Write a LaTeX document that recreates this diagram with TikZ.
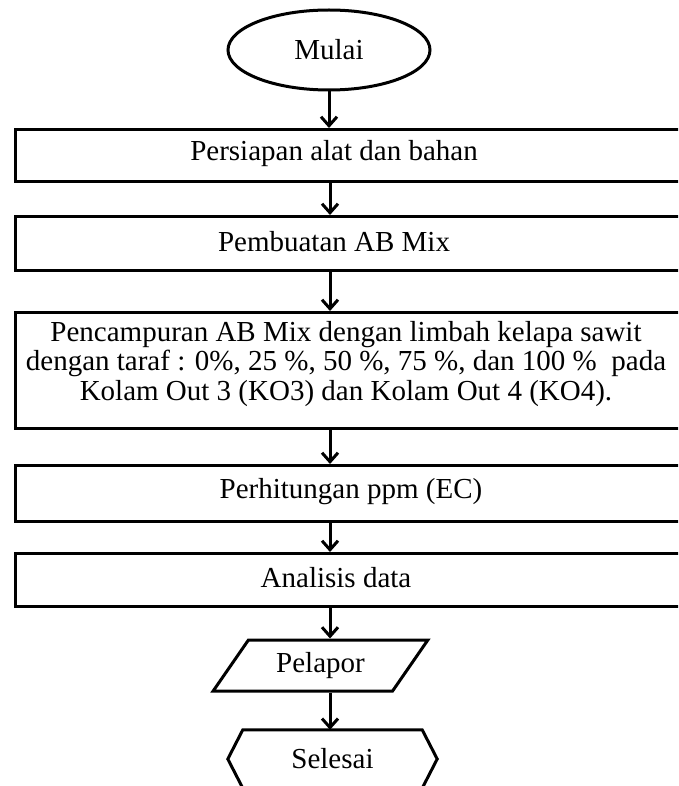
\documentclass[tikz,border=0pt]{standalone}
\usepackage{fontspec}
\setmainfont{Liberation Serif}
\usetikzlibrary{arrows.meta,shapes.geometric}
\begin{document}
\begin{tikzpicture}[x=1pt,y=-1pt,
  every node/.style={font=\fontsize{29}{29.5}\selectfont, inner sep=0pt},
  frame/.style={draw, line width=3pt, rectangle, minimum width=680pt, anchor=north west},
  lbl/.style={align=center},
  arr/.style={line width=3pt, -{Straight Barb[length=9pt,width=16pt,line width=3pt]}}]
\useasboundingbox (0,0) rectangle (678,786);
\clip (0,0) rectangle (678,786);
\fill[white] (0,0) rectangle (678,786);

\node[draw, line width=3pt, ellipse, minimum width=202pt, minimum height=80pt] (start) at (329,50) {Mulai};

\node[frame, minimum height=52pt] (b1) at (14,128) {};
\node[lbl] (t1) at (334,154) {Persiapan alat dan bahan};

\node[frame, minimum height=54pt] (b2) at (14,215) {};
\node[lbl] (t2) at (334,242) {Pembuatan AB Mix};

\node[frame, minimum height=116pt] (b3) at (14,311) {};
\node[lbl] (t3) at (346,364) {Pencampuran AB Mix dengan limbah kelapa sawit\\dengan taraf : 0\%, 25 \%, 50 \%, 75 \%, dan 100 \%\ \ pada\\Kolam Out 3 (KO3) dan Kolam Out 4 (KO4).};

\node[frame, minimum height=56pt] (b4) at (14,464) {};
\node[lbl] (t4) at (351,492) {Perhitungan ppm (EC)};

\node[frame, minimum height=53pt] (b5) at (14,552) {};
\node[lbl] (t5) at (336,578) {Analisis data};

\node[draw, line width=3pt, trapezium, trapezium left angle=50.5, trapezium right angle=129.5,
  trapezium stretches=true, minimum width=215pt, minimum height=51pt] (rep) at (320.5,665.5) {Pelapor};

\node[minimum width=179pt, minimum height=58pt] (fin) at (332.5,759) {Selesai};
\draw[line width=3pt, line join=miter] (fin.north west) -- (fin.north east) -- ([xshift=15pt]fin.east)
  -- (fin.south east) -- (fin.south west) -- ([xshift=-15pt]fin.west) -- cycle;

\coordinate (c) at (330,0);
\draw[arr] (start.south) -- (start.south |- b1.north);
\draw[arr] (c |- b1.south) -- (c |- b2.north);
\draw[arr] (c |- b2.south) -- (c |- b3.north);
\draw[arr] (c |- b3.south) -- (c |- b4.north);
\draw[arr] (c |- b4.south) -- (c |- b5.north);
\draw[arr] (c |- b5.south) -- (c |- rep.north);
\draw[arr] (c |- rep.south) -- (c |- fin.north);
\end{tikzpicture}
\end{document}
